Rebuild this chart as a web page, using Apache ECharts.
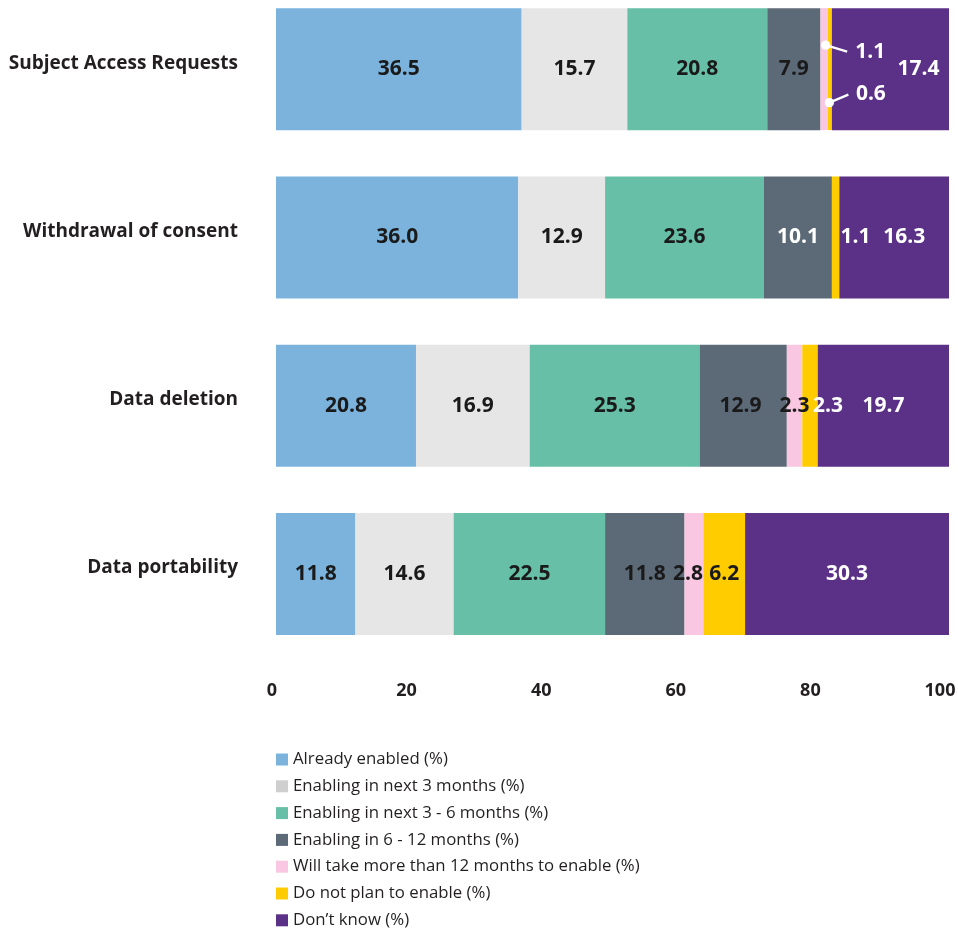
<!DOCTYPE html>
<html>
<head>
<meta charset="utf-8">
<title>Readiness to support data subject rights</title>
<script src="https://cdn.jsdelivr.net/npm/echarts@6/dist/echarts.min.js"></script>
<style>
  html, body { margin: 0; padding: 0; background: #ffffff; }
  #chart { width: 958px; height: 930px; }
</style>
</head>
<body>
<div id="chart"></div>
<script>
// Rights covered, top to bottom
const categories = [
  'Subject Access Requests',
  'Withdrawal of consent',
  'Data deletion',
  'Data portability'
];

// Share of respondents (%) per readiness status
const seriesNames = [
  'Already enabled (%)',
  'Enabling in next 3 months (%)',
  'Enabling in next 3 - 6 months (%)',
  'Enabling in 6 - 12 months (%)',
  'Will take more than 12 months to enable (%)',
  'Do not plan to enable (%)',
  'Don\u2019t know (%)'
];
const alreadyEnabled  = [36.5, 36.0, 20.8, 11.8];
const next3Months     = [15.7, 12.9, 16.9, 14.6];
const next3to6Months  = [20.8, 23.6, 25.3, 22.5];
const in6to12Months   = [7.9, 10.1, 12.9, 11.8];
const over12Months    = [1.1, 0, 2.3, 2.8];
const noPlan          = [0.6, 1.1, 2.3, 6.2];
const dontKnow        = [17.4, 16.3, 19.7, 30.3];

const xTicks = [0, 20, 40, 60, 80, 100];

const values = [alreadyEnabled, next3Months, next3to6Months, in6to12Months,
                over12Months, noPlan, dontKnow];

const barColors    = ['#7BB3DD', '#E6E6E6', '#66BFA6', '#5C6977', '#F9C7E1', '#FFCC00', '#5B3187'];
const legendColors = ['#7BB3DD', '#CFCFCF', '#66BFA6', '#5C6977', '#F9C7E1', '#FFCC00', '#5B3187'];
const DARK = '#1a1a1a';
const LIGHT = '#ffffff';
const labelColors = [DARK, DARK, DARK, DARK, DARK, DARK, LIGHT];

// Per-segment label adjustments, keyed "series-category"
const labelAdjust = {
  '3-1': { color: LIGHT },
  '4-0': { color: LIGHT, offset: [46, -17] },
  '5-0': { color: LIGHT, offset: [41, 25] },
  '6-0': { offset: [28, 0] },
  '5-1': { color: LIGHT, offset: [20, 0] },
  '6-1': { offset: [10, 0] },
  '3-2': { offset: [-3, 0] },
  '5-2': { color: LIGHT, offset: [18, 0] },
  '4-3': { offset: [-6, 0] }
};

// Leader lines for the two thin segments on the first bar
const leaderSegments = [
  { series: 4, cat: 0, dot: [1.5, -24], end: [23, -17.5] },
  { series: 5, cat: 0, dot: [-0.5, 33.5], end: [18.5, 25.5] }
];

function segmentCenter(s, c) {
  let start = 0;
  for (let i = 0; i < s; i++) start += values[i][c];
  return start + values[s][c] / 2;
}

const FONT = '"Open Sans", "Noto Sans", sans-serif';
const tickFont = { fontFamily: FONT, fontWeight: 'bold', fontSize: 18, color: '#231f20' };

const barSeries = seriesNames.map(function (name, s) {
  return {
    name: name,
    type: 'bar',
    stack: 'total',
    barWidth: 122,
    itemStyle: { color: barColors[s] },
    emphasis: { disabled: true },
    data: values[s].map(function (v, c) {
      const adj = labelAdjust[s + '-' + c] || {};
      return {
        value: v,
        label: {
          show: v > 0,
          position: 'inside',
          color: adj.color || labelColors[s],
          offset: adj.offset || [0, 0]
        }
      };
    }),
    label: {
      show: true,
      position: 'inside',
      fontFamily: FONT,
      fontWeight: 'bold',
      fontSize: 21,
      formatter: function (p) { return p.value.toFixed(1); }
    }
  };
});

const leaderSeries = {
  type: 'custom',
  silent: true,
  z: 5,
  coordinateSystem: 'cartesian2d',
  encode: { x: 0, y: 1 },
  data: leaderSegments.map(function (d) { return [segmentCenter(d.series, d.cat), d.cat]; }),
  renderItem: function (params, api) {
    const d = leaderSegments[params.dataIndex];
    const p = api.coord([api.value(0), api.value(1)]);
    const dx = p[0] + d.dot[0], dy = p[1] + d.dot[1];
    const ex = p[0] + d.end[0], ey = p[1] + d.end[1];
    return {
      type: 'group',
      children: [
        { type: 'line', shape: { x1: dx, y1: dy, x2: ex, y2: ey },
          style: { stroke: '#ffffff', lineWidth: 2.2 } },
        { type: 'circle', shape: { cx: dx, cy: dy, r: 4.6 },
          style: { fill: '#ffffff' } }
      ]
    };
  }
};

const chart = echarts.init(document.getElementById('chart'), null, { renderer: 'canvas' });
chart.setOption({
  animation: false,
  backgroundColor: '#ffffff',
  grid: { left: 276, width: 673, top: -15, height: 673, outerBoundsMode: 'none', containLabel: false },
  xAxis: {
    type: 'value',
    min: xTicks[0],
    max: xTicks[xTicks.length - 1],
    interval: xTicks[1] - xTicks[0],
    axisLine: { show: false },
    axisTick: { show: false },
    splitLine: { show: false },
    axisLabel: Object.assign({
      margin: 24,
      formatter: function (v) {
        return v === xTicks[xTicks.length - 1] ? '{end|' + v + '}' : '{tick|' + v + '}';
      },
      rich: {
        tick: Object.assign({ padding: [0, 8, 0, 0] }, tickFont),
        end: Object.assign({ padding: [0, 18, 0, 0] }, tickFont)
      }
    }, tickFont)
  },
  yAxis: {
    type: 'category',
    inverse: true,
    data: categories,
    axisLine: { show: false },
    axisTick: { show: false },
    axisLabel: {
      margin: 38,
      fontFamily: FONT,
      fontWeight: 'bold',
      fontSize: 19,
      color: '#231f20',
      verticalAlign: 'bottom',
      lineHeight: 12
    }
  },
  legend: {
    orient: 'vertical',
    left: 276,
    top: 751,
    height: 190,
    padding: 0,
    itemWidth: 12,
    itemHeight: 12,
    itemGap: 9.8,
    icon: 'rect',
    selectedMode: false,
    textStyle: { fontFamily: FONT, fontSize: 16.8, color: '#231f20', lineHeight: 16 },
    data: seriesNames.map(function (n, i) {
      return { name: n, itemStyle: { color: legendColors[i] } };
    })
  },
  series: barSeries.concat([leaderSeries])
});
</script>
</body>
</html>
